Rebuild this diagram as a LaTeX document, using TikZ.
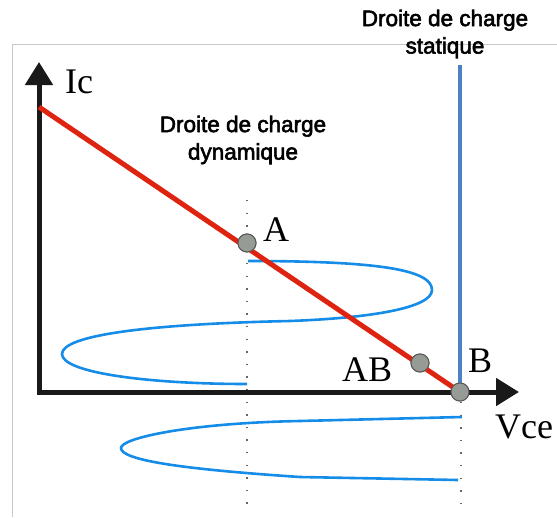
\documentclass[tikz,border=0pt]{standalone}
\usepackage{fontspec}
\setmainfont{Liberation Serif}
\newfontfamily\arial[UprightFeatures={FakeBold=2.5}]{Liberation Sans}
\usetikzlibrary{arrows.meta,positioning}

\definecolor{rouge}{RGB}{222,36,16}
\definecolor{bleustat}{RGB}{74,130,196}
\definecolor{bleuspire}{RGB}{20,140,232}
\definecolor{gris}{RGB}{150,155,150}

\begin{document}
\begin{tikzpicture}[
  x=1pt, y=-1pt, >={Triangle[length=23pt,width=27pt]},
  cadre/.style={draw=black!22, line width=1pt},
  axe/.style={draw=black!90, line width=5pt, line join=miter},
  pointille/.style={draw=black!60, line width=1.4pt, dash pattern=on 1.4pt off 11.2pt},
  spire/.style={draw=bleuspire, line width=2.6pt},
  dyn/.style={draw=rouge, line width=5pt},
  stat/.style={draw=bleustat, line width=4pt},
  pt/.style={circle, draw=black!65, fill=gris, line width=1pt, minimum size=18pt, inner sep=0pt},
  lbl/.style={font=\fontsize{36}{40}\selectfont, inner sep=0pt, anchor=base west},
  titre/.style={font=\arial\fontsize{22.5}{27.5}\selectfont, align=center, inner sep=0pt}]

  \useasboundingbox (0,0) rectangle (557,517);

  % --- frame and axes ---
  \draw[cadre] (12,517) -- (12,44) -- (557,44);
  \coordinate (O) at (39,392);
  \coordinate (ytip) at (39,62);
  \coordinate (xtip) at (519,392);
  \coordinate (Icmax) at (39,107);

  % --- operating points ---
  \node[pt] (A)  at (247,243) {};
  \node[pt] (AB) at (420,363) {};
  \node[pt] (B)  at (460,392) {};
  \coordinate (stattop) at (460,65);

  % --- dotted guides ---
  \coordinate (gA) at (247,200); \coordinate (gAbas) at (247,510);
  \coordinate (gB) at (461,402); \coordinate (gBbas) at (461,512);
  \draw[pointille] (gA) -- (gAbas);
  \draw[pointille] (gB) -- (gBbas);

  % --- signal around A and B ---
  \draw[spire] (248,261) .. controls (380,261) and (432,270) .. (432,290)
    .. controls (432,308) and (370,318) .. (290,321)
    .. controls (150,324) and (62,335) .. (62,354)
    .. controls (62,373) and (150,384) .. (247,384);
  \draw[spire] (462,417) -- (300,421)
    .. controls (190,423) and (121,438) .. (121,448)
    .. controls (121,460) and (180,469) .. (300,477) -- (458,480);

  \draw[axe, <->] (ytip) -- (O) -- (xtip);
  \draw[dyn] (Icmax) -- (B.center);
  \draw[stat] (stattop) -- (B.center);

  % --- points on top ---
  \node[pt] at (A) {};
  \node[pt] at (AB) {};
  \node[pt] at (B) {};

  % --- labels ---
  \node[lbl] (Ic)  at (65,93)   {Ic};
  \node[lbl] (lA)  at (263,241) {A};
  \node[lbl] (lAB) at (342,381) {AB};
  \node[lbl] (lB)  at (468,372) {B};
  \node[lbl] (Vce) at (495,438) {Vce};

  \node[titre] (tstat) at (445,34)  {Droite de charge\\statique};
  \node[titre] (tdyn)  at (243,140) {Droite de charge\\dynamique};
\end{tikzpicture}
\end{document}
